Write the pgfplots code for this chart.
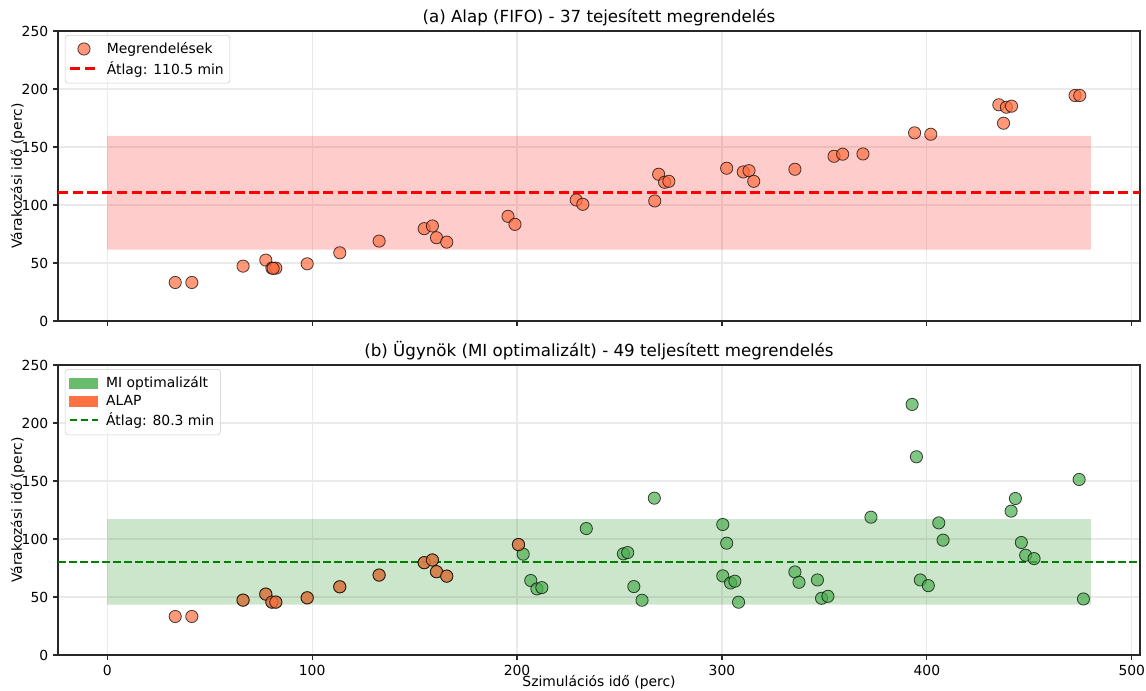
\documentclass[border=0pt]{standalone}
\usepackage{fontspec}
\setmainfont{DejaVu Sans}
\usepackage{pgfplots}
\pgfplotsset{compat=1.18}

\definecolor{alapc}{RGB}{255,110,64}
\definecolor{alappatch}{RGB}{255,112,67}
\definecolor{mic}{RGB}{76,175,80}
\definecolor{mipatch}{RGB}{104,189,108}
\definecolor{mgreen}{RGB}{0,128,0}
\definecolor{gridc}{RGB}{234,234,234}
\definecolor{spine}{RGB}{40,40,40}

\pgfplotsset{
  panel/.style={
    scale only axis, width=779.04pt, height=208.8pt,
    xmin=-24, xmax=504, ymin=0, ymax=250,
    xtick={0,100,...,500}, ytick={0,50,...,250},
    grid=major, grid style={gridc, line width=0.8pt},
    tick align=outside, major tick length=3.5pt, tick pos=left,
    tick style={spine, line width=0.8pt},
    axis line style={spine, line width=0.8pt},
    ticklabel style={font=\fontsize{10}{12}\selectfont},
    /pgf/number format/assume math mode=true,
    label style={font=\fontsize{10}{12}\selectfont},
    title style={font=\fontsize{12}{14.4}\selectfont, at={(0.5,1)}, anchor=base, yshift=0pt},
    ylabel={Várakozási idő (perc)},
    ylabel style={yshift=-9pt},
    xlabel style={yshift=6.5pt},
    legend cell align=left,
    legend style={at={(0,1)}, anchor=north west, xshift=5pt, yshift=-3pt,
      draw=black!20, rounded corners=2pt, fill=white, fill opacity=0.8, text opacity=1,
      font=\fontsize{10}{12}\selectfont, row sep=0pt, inner xsep=2.5pt, inner ysep=3pt,
      /tikz/every odd column/.append style={column sep=3.5pt}},
    legend image code/.code={\draw[mark repeat=2, mark phase=2, ##1] plot coordinates {(0pt,0pt) (10pt,0pt) (20pt,0pt)};},
  },
  pts/.style={only marks, mark=*, mark size=4.4pt,
    mark options={fill=#1, draw=black, line width=0.6pt, opacity=0.7}},
}

\pgfplotstableread{
x y
33.2 33.2
41.3 33.2
66.3 47.3
77.4 52.5
80.4 45.6
82.3 45.6
81.0 45.4
97.6 49.3
113.5 58.8
132.7 68.9
154.7 79.6
158.7 81.9
160.7 71.8
165.7 68.0
195.6 90.2
199.0 83.3
228.9 104.3
232.1 100.6
267.2 103.5
269.1 126.5
272.0 119.6
274.1 120.4
302.3 131.7
310.4 128.5
313.2 129.6
315.5 120.4
335.6 130.8
354.7 142.0
358.9 143.8
368.8 144.0
394.0 162.2
401.9 161.0
435.1 186.4
438.8 184.3
441.3 185.2
437.4 170.5
472.3 194.4
474.6 194.4
}\fifo

\pgfplotstableread{
x y
33.2 33.2
41.3 33.2
66.3 47.3
77.4 52.5
80.4 45.6
82.3 45.6
97.6 49.3
113.5 58.8
132.7 68.9
154.7 79.6
158.7 81.9
160.7 71.8
165.7 68.0
200.7 95.2
}\alapb

\pgfplotstableread{
x y
66.3 47.3
77.4 52.5
80.4 45.6
82.3 45.6
97.6 49.3
113.5 58.8
132.7 68.9
154.7 79.6
158.7 81.9
160.7 71.8
165.7 68.0
200.7 95.2
}\under

\pgfplotstableread{
x y
203.0 86.9
206.7 64.2
209.7 57.0
212.1 58.1
233.8 109.0
251.9 87.2
254.0 88.3
257.0 59.0
261.0 47.2
267.0 135.2
300.4 112.5
302.3 96.4
300.4 68.2
304.2 62.1
306.3 63.6
308.1 45.5
335.6 71.6
337.6 62.7
346.6 64.7
348.6 48.9
351.7 50.6
372.7 118.8
392.8 216.0
394.9 170.9
396.8 64.7
400.7 59.8
405.8 113.9
407.9 99.0
441.1 124.0
443.2 134.9
446.1 97.0
448.2 86.0
452.3 83.1
474.3 151.3
476.4 48.3
}\mib

\begin{document}
\begin{tikzpicture}
\useasboundingbox (0,0) rectangle (825.12pt,-497.52pt);

% (a) baseline FIFO
\begin{axis}[panel, at={(41.76pt,-22.32pt)}, anchor=north west,
  xticklabels={},
  title={(a) Alap (FIFO) - 37 tejesített megrendelés}]
\addlegendimage{pts=alapc}
\addlegendentry{Megrendelések}
\addlegendimage{red, line width=2pt, dash pattern=on 7.4pt off 3.2pt}
\addlegendentry{Átlag: 110.5 min}
\addplot[draw=none, fill=red, fill opacity=0.2, forget plot] coordinates {(0,61.5) (480,61.5) (480,159.5) (0,159.5) (0,61.5)};
\addplot[red, line width=2pt, dash pattern=on 7.4pt off 3.2pt, forget plot] coordinates {(-24,110.5) (504,110.5)};
\addplot[pts=alapc, forget plot] table[x=x, y=y] {\fifo};
\end{axis}

% (b) agent
\begin{axis}[panel, at={(41.76pt,-262.8pt)}, anchor=north west,
  xlabel={Szimulációs idő (perc)},
  title={(b) Ügynök (MI optimalizált) - 49 teljesített megrendelés}]
\addlegendimage{legend image code/.code={\fill[mipatch, fill opacity=1, sharp corners] (0pt,-3.5pt) rectangle (20pt,3.5pt);}}
\addlegendentry{MI optimalizált}
\addlegendimage{legend image code/.code={\fill[alappatch, fill opacity=1, sharp corners] (0pt,-3.5pt) rectangle (20pt,3.5pt);}}
\addlegendentry{ALAP}
\addlegendimage{mgreen, line width=1.5pt, dash pattern=on 5.55pt off 2.4pt}
\addlegendentry{Átlag: 80.3 min}
\addplot[draw=none, fill=mgreen, fill opacity=0.2, forget plot] coordinates {(0,43.4) (480,43.4) (480,117.2) (0,117.2) (0,43.4)};
\addplot[mgreen, line width=1.5pt, dash pattern=on 5.55pt off 2.4pt, forget plot] coordinates {(-24,80.3) (504,80.3)};
\addplot[pts=mic, forget plot] table[x=x, y=y] {\under};
\addplot[pts=mic, forget plot] table[x=x, y=y] {\mib};
\addplot[pts=alapc, forget plot] table[x=x, y=y] {\alapb};
\end{axis}
\end{tikzpicture}
\end{document}
